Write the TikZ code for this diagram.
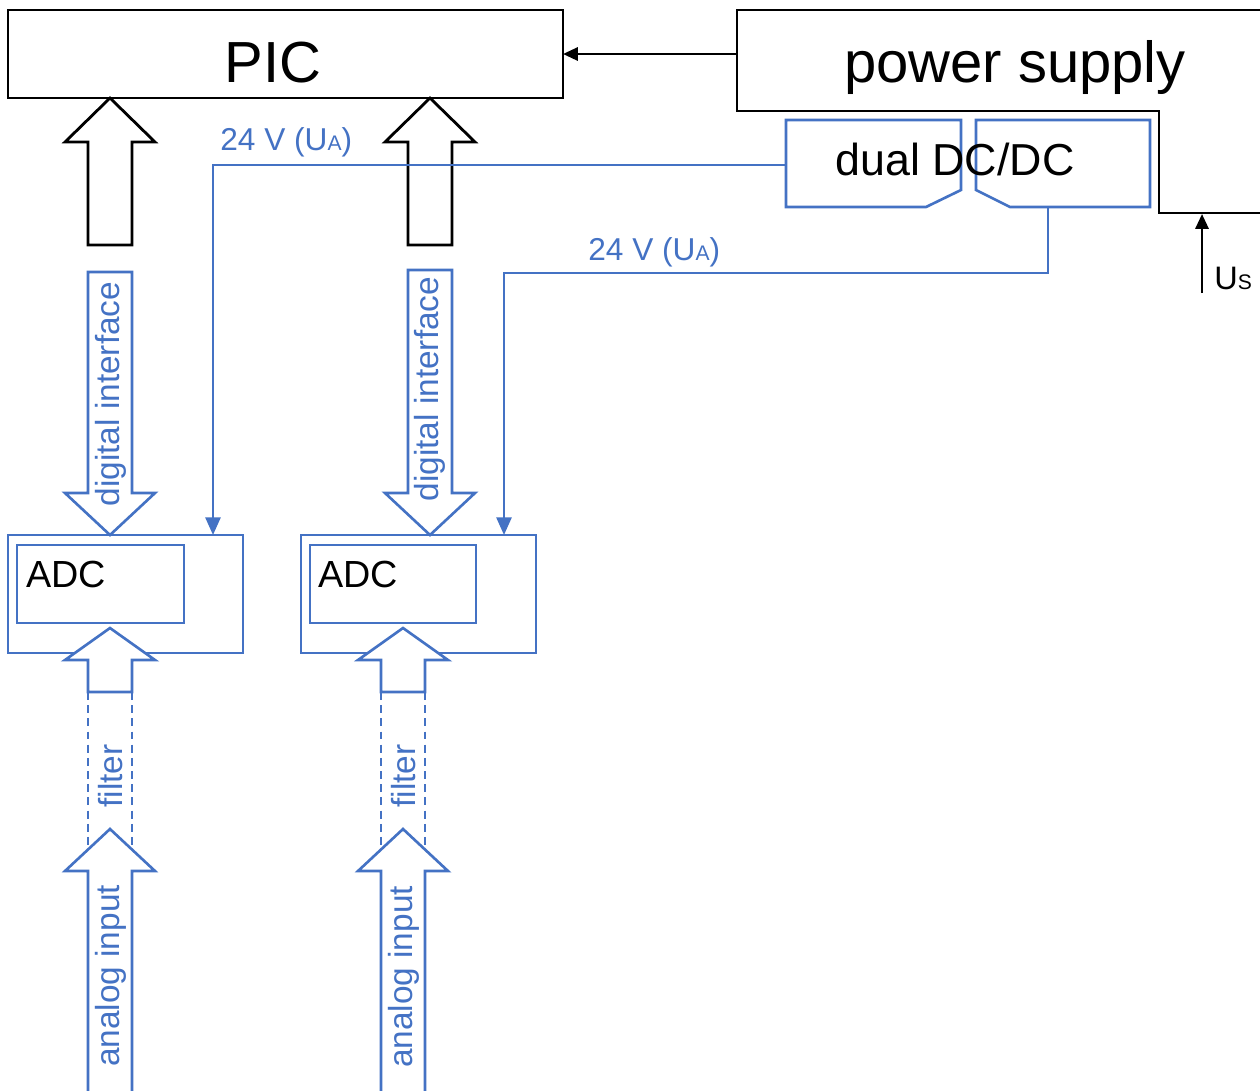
\documentclass[tikz,border=0pt]{standalone}
\usepackage{fontspec}
\setmainfont{Liberation Sans}
\usetikzlibrary{arrows.meta}
\definecolor{obl}{HTML}{4472C4}
\newcommand{\blockarr}[5]{% style, cx, tip y, head base y, end y
  \path[#1] (#2,#3) -- ({#2+45},#4) -- ({#2+22},#4) -- ({#2+22},#5) -- ({#2-22},#5) -- ({#2-22},#4) -- ({#2-45},#4) -- cycle;}
\begin{document}
\begin{tikzpicture}[x=0.02cm,y=-0.02cm,
  blk/.style={draw=black, line width=1.6pt},
  bl/.style={draw=obl, line width=1.5pt},
  blkarrow/.style={blk, fill=white, line join=miter},
  blarrow/.style={bl, fill=white, line join=miter},
  filterline/.style={draw=obl, line width=1.4pt, dash pattern=on 4.5pt off 3pt},
  conn/.style={draw=obl, line width=1.5pt, -{Triangle[length=10pt,width=8.5pt]}},
  bconn/.style={draw=black, line width=1.5pt, -{Triangle[length=8.5pt,width=7.5pt]}},
  bigtxt/.style={inner sep=0pt, font=\fontsize{33}{33}\selectfont},
  midtxt/.style={inner sep=0pt, font=\fontsize{25.5}{25.5}\selectfont},
  adctxt/.style={inner sep=0pt, font=\fontsize{21.5}{21.5}\selectfont},
  lbltxt/.style={inner sep=0pt, text=obl, font=\fontsize{18}{18}\selectfont},
  rottxt/.style={inner sep=0pt, text=obl, rotate=90, font=\fontsize{19}{19}\selectfont}
]
\useasboundingbox[fill=white] (0,0) rectangle (1260,1090);

% PIC box
\draw[blk] (8,10) rectangle (563,98);
\node[bigtxt, anchor=base] (pic) at (273,82) {PIC};
\coordinate (picE) at (563,54);

% power supply
\draw[blk, line join=miter] (1263,10) -- (737,10) -- (737,111) -- (1159,111) -- (1159,213) -- (1263,213);
\node[bigtxt, anchor=base] (ps) at (1015,82) {power supply};
\coordinate (psW) at (737,54);
\draw[bconn] (psW) -- (picE);

% Us
\coordinate (usS) at (1202,293);
\coordinate (usT) at (1202,214);
\draw[bconn] (usS) -- (usT);
\node[inner sep=0pt, anchor=base west, font=\fontsize{18.5}{18.5}\selectfont] (us) at (1214,289) {U\raisebox{-0.5pt}{\fontsize{12}{12}\selectfont S}};

% dual DC/DC
\draw[bl, line join=miter] (786,120) -- (961,120) -- (961,190) -- (926,207) -- (786,207) -- cycle;
\draw[bl, line join=miter] (976,120) -- (1150,120) -- (1150,207) -- (1010,207) -- (976,190) -- cycle;
\node[midtxt, anchor=base] (dcdc) at (955,175) {dual DC/DC};
\coordinate (dcL) at (786,165);
\coordinate (dcR) at (1048,207);
\coordinate (kink2) at (504,273);

% black up arrows to PIC
\blockarr{blkarrow}{110}{98}{142}{245}
\blockarr{blkarrow}{430}{98}{142}{245}

% ADC boxes
\draw[bl] (8,535) rectangle (243,653);
\draw[bl] (17,545) rectangle (184,623);
\node[adctxt, anchor=base west] (adc1) at (26,587) {ADC};
\draw[bl] (301,535) rectangle (536,653);
\draw[bl] (310,545) rectangle (476,623);
\node[adctxt, anchor=base west] (adc2) at (318,587) {ADC};
\coordinate (adc1in) at (213,535);
\coordinate (adc2in) at (504,535);

% 24 V supply lines
\draw[conn] (dcL) -| (adc1in);
\draw[conn] (dcR) |- (kink2) -- (adc2in);
\node[lbltxt, anchor=base west] (ua1) at (220,150) {24 V (U\raisebox{-0.5pt}{\fontsize{12}{12}\selectfont A})};
\node[lbltxt, anchor=base west] (ua2) at (588,260) {24 V (U\raisebox{-0.5pt}{\fontsize{12}{12}\selectfont A})};

% digital interface arrows (down)
\blockarr{blarrow}{110}{535}{493}{272}
\blockarr{blarrow}{430}{535}{493}{270}
\node[rottxt] (di1) at (111,394) {digital interface};
\node[rottxt] (di2) at (430,389) {digital interface};

% filter (dashed) lines
\draw[filterline] (88,692) -- (88,868);
\draw[filterline] (132,692) -- (132,868);
\draw[filterline] (381,692) -- (381,868);
\draw[filterline] (425,692) -- (425,868);

% ADC input arrows
\blockarr{blarrow}{110}{628}{660}{692}
\blockarr{blarrow}{403}{628}{660}{692}
\node[rottxt] (f1) at (111,776) {filter};
\node[rottxt] (f2) at (404,776) {filter};

% analog input arrows
\blockarr{blarrow}{110}{829}{871}{1094}
\blockarr{blarrow}{403}{829}{871}{1094}
\node[rottxt] (ai1) at (111,976) {analog input};
\node[rottxt] (ai2) at (404,977) {analog input};
\end{tikzpicture}
\end{document}
